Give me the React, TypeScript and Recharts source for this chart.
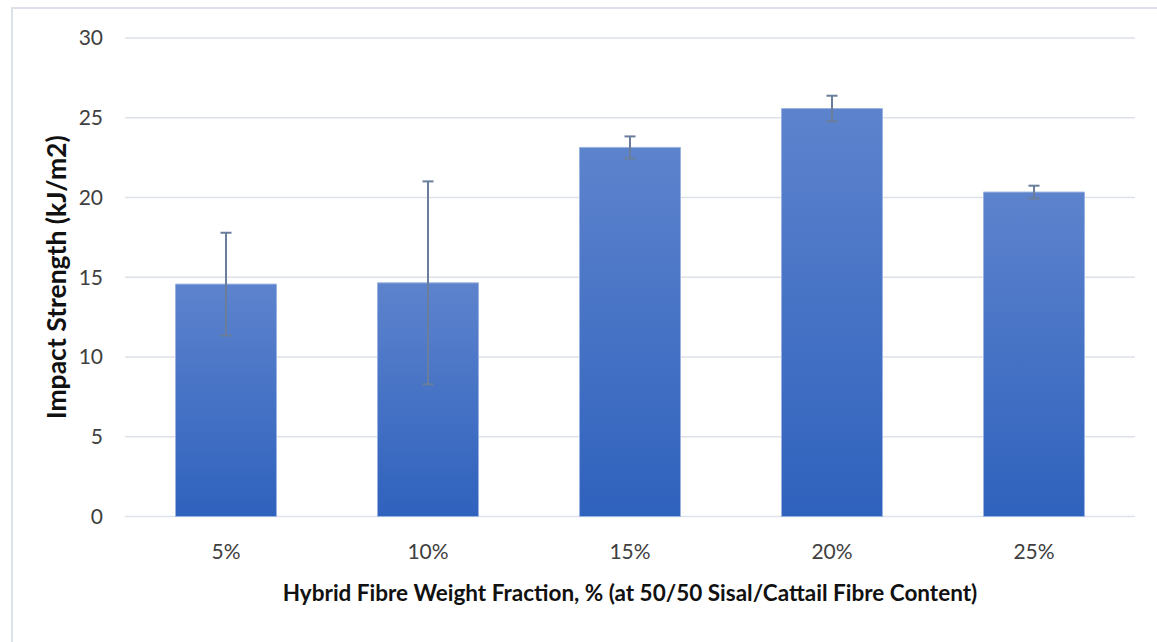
import { BarChart, Bar, XAxis, YAxis, CartesianGrid, ErrorBar, Label } from "recharts";

const fractions = ["5%", "10%", "15%", "20%", "25%"];
const impactStrength = [14.57, 14.65, 23.14, 25.58, 20.34];
const stdDev = [3.22, 6.36, 0.69, 0.8, 0.4];
const yTicks = [0, 5, 10, 15, 20, 25, 30];

const data = fractions.map((f, i) => ({
  fraction: f,
  strength: impactStrength[i],
  err: stdDev[i],
}));

const FONT = "Lato, 'Liberation Sans', sans-serif";

export default function App() {
  return (
    <div style={{ position: "absolute", left: 0, top: 0, width: 1157, height: 642, background: "#fff", fontFamily: FONT }}>
      {/* frame of the original chart area, cut off on the right and bottom */}
      <div style={{ position: "absolute", left: 11, top: 7, width: 1146, height: 635, borderLeft: "2px solid #DCE1EA", borderTop: "2px solid #DCE1EA" }} />
      <BarChart
        width={1157}
        height={642}
        data={data}
        margin={{ top: 38, right: 22, bottom: 0, left: 0 }}
        barCategoryGap="25%"
        style={{ position: "absolute", left: 0, top: 0 }}
      >
        <defs>
          <linearGradient id="barFill" x1="0" y1="0" x2="0" y2="1">
            <stop offset="0%" stopColor="#5D83CD" />
            <stop offset="100%" stopColor="#2F62BD" />
          </linearGradient>
        </defs>
        <CartesianGrid vertical={false} stroke="#DDE1E9" strokeWidth={1.5} />
        <XAxis
          dataKey="fraction"
          axisLine={false}
          tickLine={false}
          tickMargin={22}
          height={125.5}
          tick={{ fill: "#404040", fontSize: 21, fontFamily: FONT }}
        >
          <Label
            value="Hybrid Fibre Weight Fraction, % (at 50/50 Sisal/Cattail Fibre Content)"
            position="insideTop"
            offset={69}
            style={{ fill: "#111", fontSize: 22.5, fontWeight: 700, fontFamily: FONT }}
          />
        </XAxis>
        <YAxis
          domain={[0, 30]}
          ticks={yTicks}
          width={125}
          axisLine={false}
          tickLine={false}
          tickMargin={16}
          tick={{ fill: "#404040", fontSize: 21, fontFamily: FONT }}
        >
          <Label
            value="Impact Strength (kJ/m2)"
            angle={-90}
            position="insideLeft"
            offset={57}
            style={{ fill: "#111", fontSize: 26.5, fontWeight: 700, fontFamily: FONT, textAnchor: "middle" }}
          />
        </YAxis>
        <Bar dataKey="strength" fill="url(#barFill)" stroke="#9BB3DF" strokeWidth={1} isAnimationActive={false}>
          <ErrorBar dataKey="err" width={5.5} stroke="#6A7E9C" strokeWidth={2} direction="y" />
        </Bar>
      </BarChart>
    </div>
  );
}
